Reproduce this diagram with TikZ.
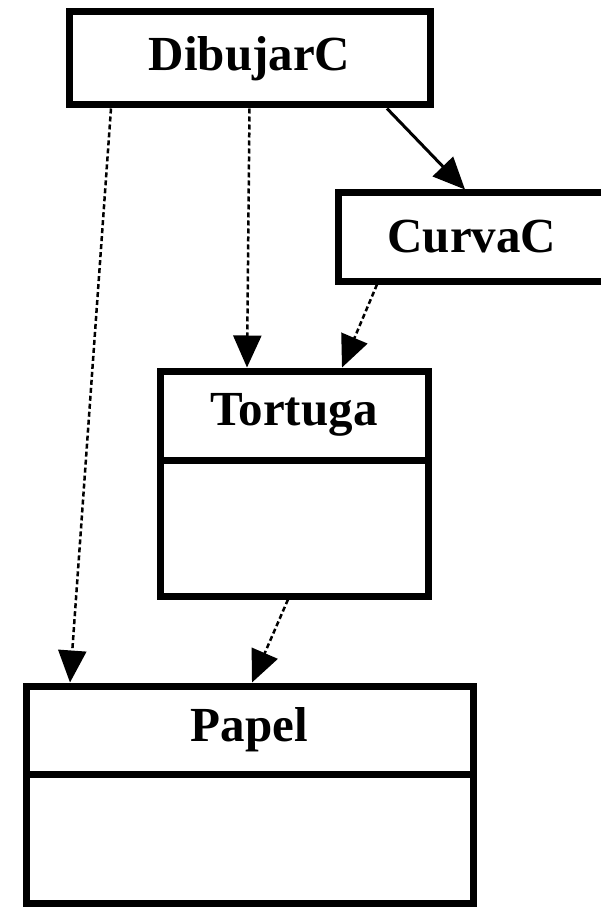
\documentclass[tikz,border=0pt]{standalone}
\usepackage{fontspec}
\setmainfont{Liberation Serif}
\usetikzlibrary{arrows.meta}
\begin{document}
\begin{tikzpicture}[x=1pt,y=-1pt,
  box/.style={draw=black,line width=7pt,rectangle,inner sep=0pt,fill=white},
  lbl/.style={font=\fontsize{49}{55}\selectfont\bfseries,inner sep=0pt},
  dep/.style={line width=2.5pt,dash pattern=on 5pt off 3pt,-{Triangle[length=32pt,width=28pt]}},
  assoc/.style={line width=3pt,-{Triangle[length=32pt,width=28pt]}}]
\useasboundingbox (0,0) rectangle (600,909);
\node[box,minimum width=361pt,minimum height=93pt] (dib) at (249.5,58.5) {};
\node[lbl] (dibt) at (dib.center) {DibujarC};
\node[box,minimum width=268pt,minimum height=88pt] (cur) at (472,237) {};
\node[lbl] (curt) at (cur.center) {CurvaC};
\node[box,minimum width=268pt,minimum height=225pt] (tor) at (294,483.5) {};
\coordinate (torl) at (160,460);
\coordinate (torr) at (428,460);
\draw[line width=7pt] (torl) -- (torr);
\node[lbl] (tort) at (294,415) {Tortuga};
\node[box,minimum width=447pt,minimum height=217pt] (pap) at (249.5,794.5) {};
\coordinate (papl) at (26,774);
\coordinate (papr) at (473,774);
\draw[line width=7pt] (papl) -- (papr);
\node[lbl] (papt) at (249.5,730) {Papel};
\draw[assoc] ([xshift=137.5pt]dib.south) -- ([xshift=-7pt]cur.north);
\draw[dep] (dib.south) -- ([xshift=-47pt]tor.north);
\draw[dep] ([xshift=-95pt]cur.south) -- ([xshift=48pt]tor.north);
\draw[dep] ([xshift=-138.5pt]dib.south) -- ([xshift=-179.5pt]pap.north);
\draw[dep] ([xshift=-6pt]tor.south) -- ([xshift=2.5pt]pap.north);
\end{tikzpicture}
\end{document}
